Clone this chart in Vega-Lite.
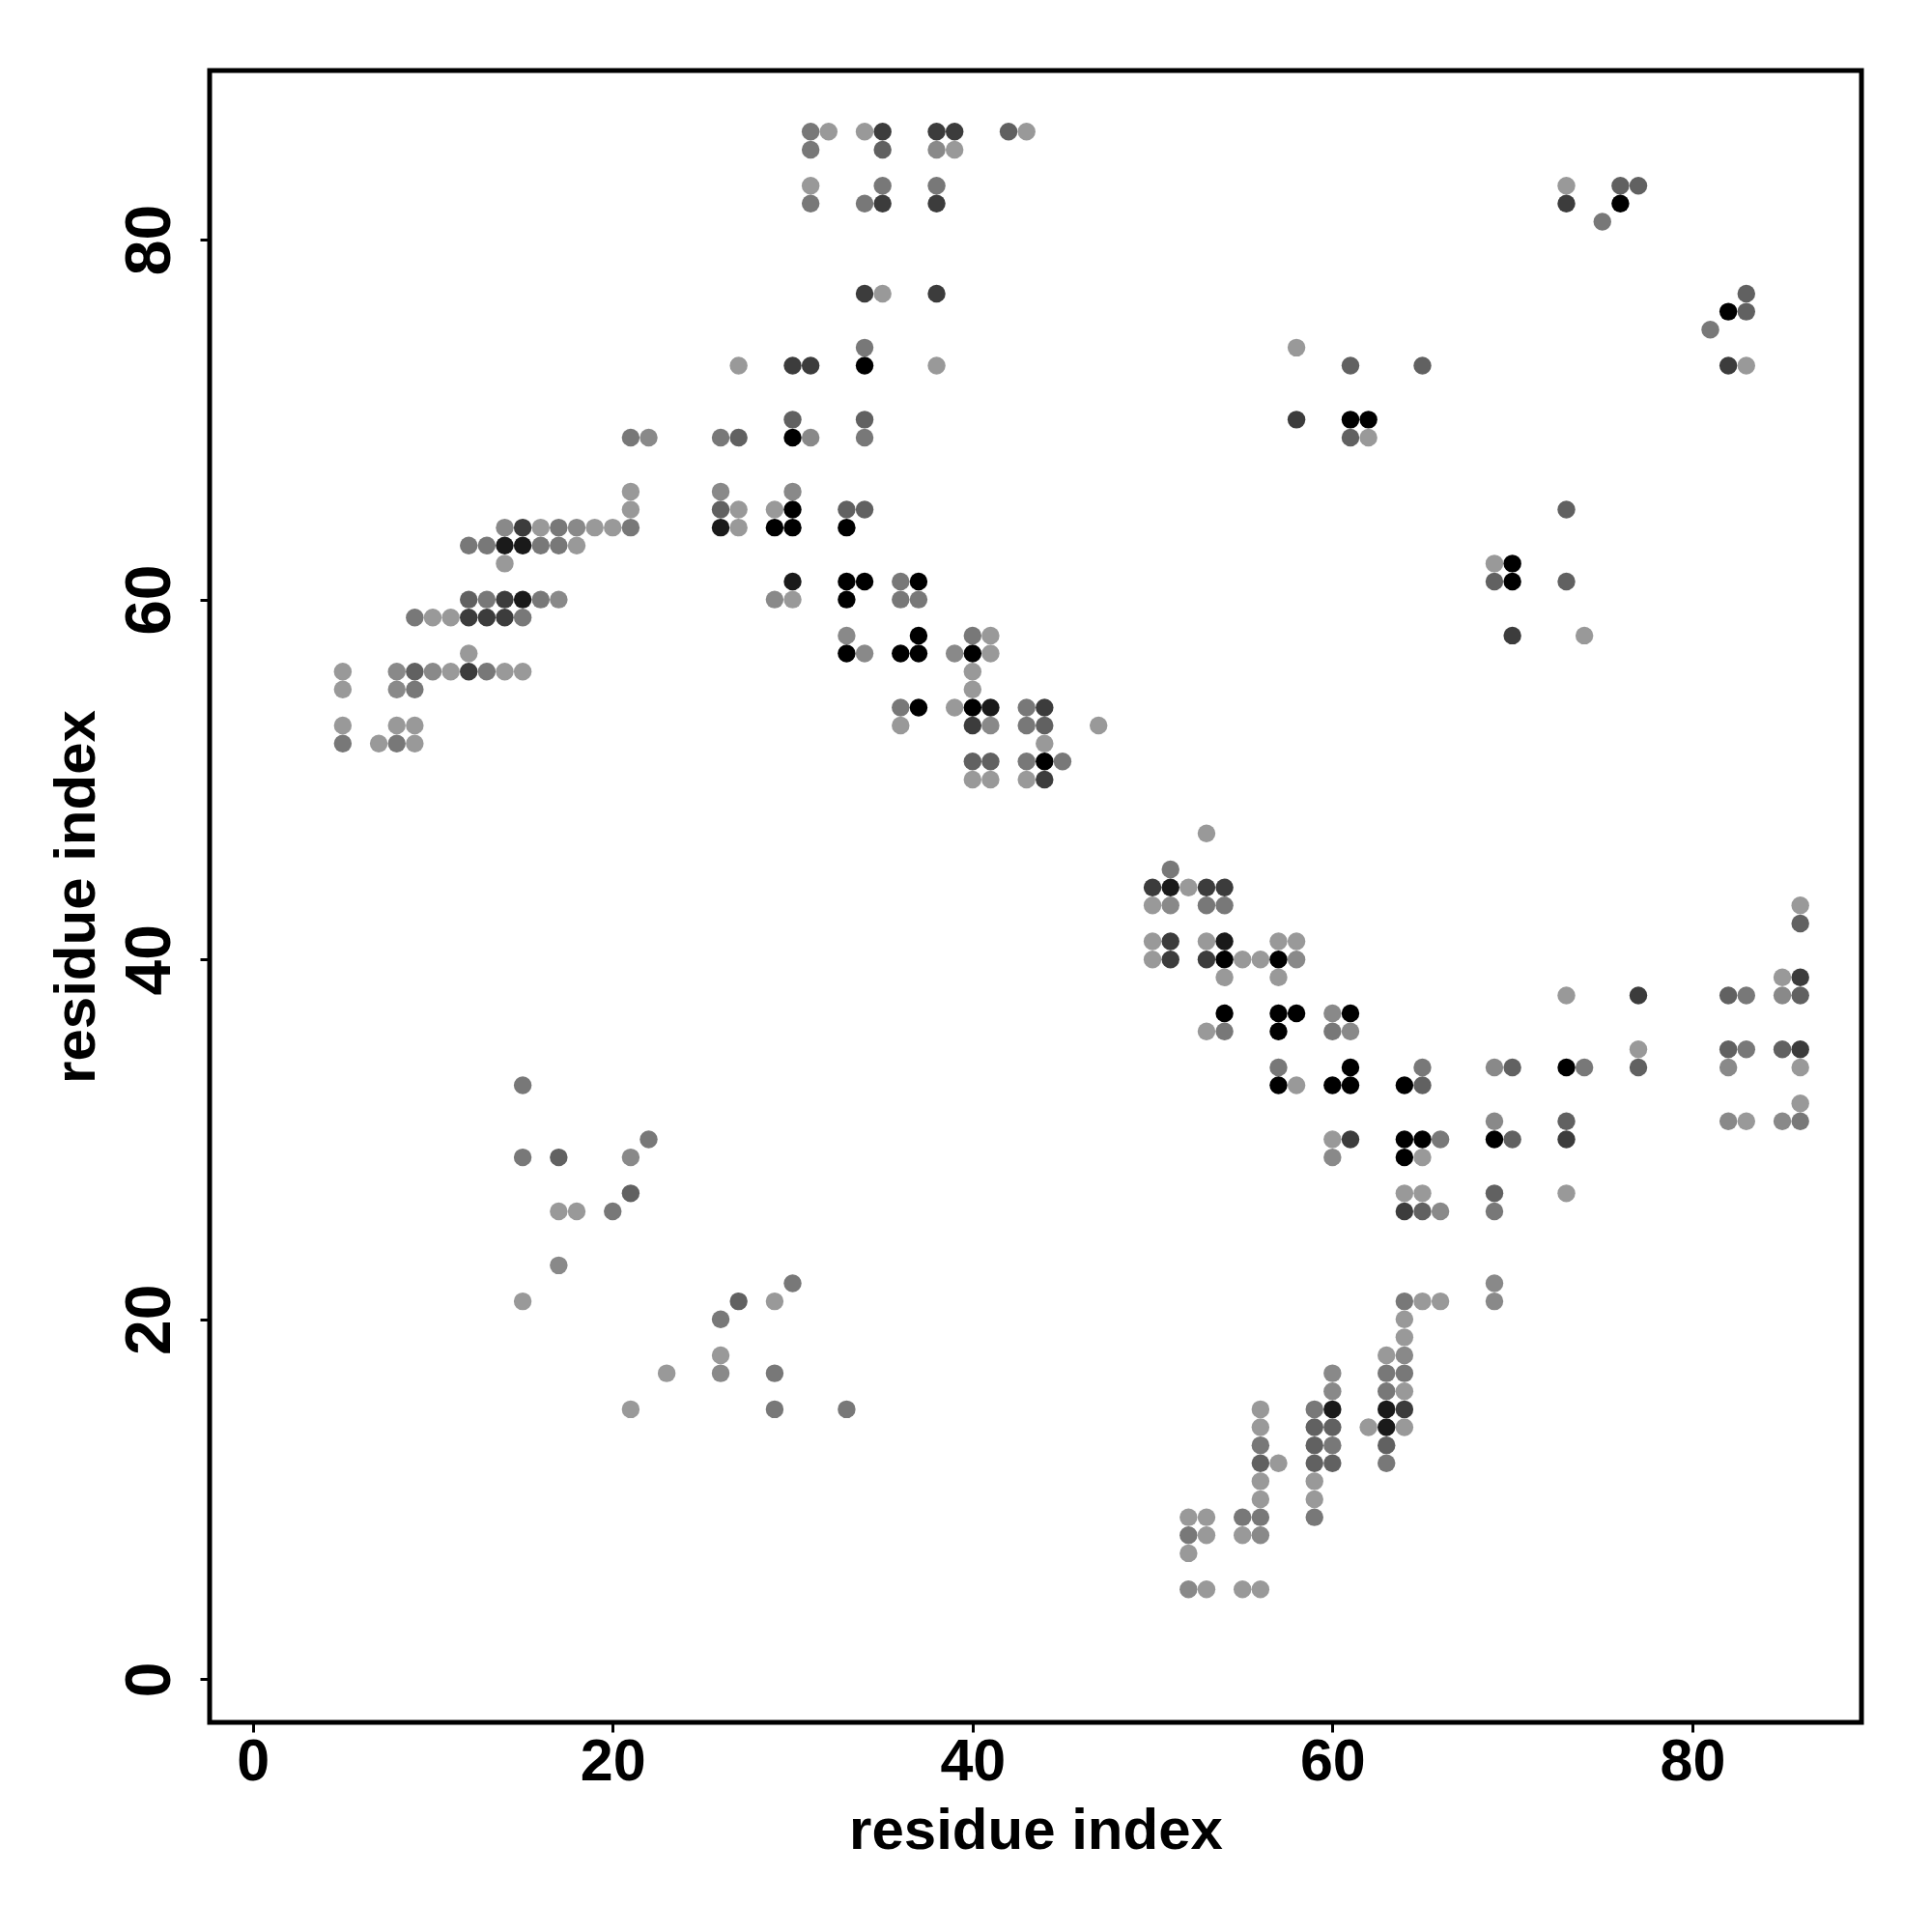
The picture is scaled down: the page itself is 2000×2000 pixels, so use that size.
{
  "$schema": "https://vega.github.io/schema/vega-lite/v6.json",
  "autosize": {"type": "none"},
  "padding": {"left": 217, "top": 73, "right": 73, "bottom": 217},
  "width": 1710,
  "height": 1710,
  "background": "white",
  "config": {
    "view": {"stroke": "black", "strokeWidth": 5},
    "font": "Liberation Sans"
  },
  "data": {"values": [
    {"x":31,"y":86,"w":0.2},{"x":32,"y":86,"w":0.0},{"x":34,"y":86,"w":0.0},{"x":35,"y":86,"w":0.6},{"x":38,"y":86,"w":0.6},{"x":39,"y":86,"w":0.6},{"x":42,"y":86,"w":0.35},{"x":43,"y":86,"w":0.0},
    {"x":31,"y":85,"w":0.2},{"x":35,"y":85,"w":0.35},{"x":38,"y":85,"w":0.1},{"x":39,"y":85,"w":0.0},
    {"x":31,"y":83,"w":0.0},{"x":35,"y":83,"w":0.2},{"x":38,"y":83,"w":0.2},
    {"x":31,"y":82,"w":0.2},{"x":34,"y":82,"w":0.2},{"x":35,"y":82,"w":0.6},{"x":38,"y":82,"w":0.6},
    {"x":34,"y":77,"w":0.6},{"x":35,"y":77,"w":0.0},{"x":38,"y":77,"w":0.6},
    {"x":34,"y":74,"w":0.2},
    {"x":27,"y":73,"w":0.0},{"x":30,"y":73,"w":0.6},{"x":31,"y":73,"w":0.6},{"x":34,"y":73,"w":1.0},{"x":38,"y":73,"w":0.0},
    {"x":30,"y":70,"w":0.35},{"x":34,"y":70,"w":0.35},
    {"x":21,"y":69,"w":0.2},{"x":22,"y":69,"w":0.1},{"x":26,"y":69,"w":0.2},{"x":27,"y":69,"w":0.35},{"x":30,"y":69,"w":1.0},{"x":31,"y":69,"w":0.1},{"x":34,"y":69,"w":0.2},
    {"x":21,"y":66,"w":0.0},{"x":26,"y":66,"w":0.1},{"x":30,"y":66,"w":0.1},
    {"x":21,"y":65,"w":0.0},{"x":26,"y":65,"w":0.35},{"x":27,"y":65,"w":0.0},{"x":29,"y":65,"w":0.0},{"x":30,"y":65,"w":1.0},{"x":33,"y":65,"w":0.35},{"x":34,"y":65,"w":0.35},
    {"x":14,"y":64,"w":0.1},{"x":15,"y":64,"w":0.6},{"x":16,"y":64,"w":0.0},{"x":17,"y":64,"w":0.2},{"x":18,"y":64,"w":0.1},{"x":19,"y":64,"w":0.0},{"x":20,"y":64,"w":0.0},{"x":21,"y":64,"w":0.2},{"x":26,"y":64,"w":0.85},{"x":27,"y":64,"w":0.0},{"x":29,"y":64,"w":1.0},{"x":30,"y":64,"w":1.0},{"x":33,"y":64,"w":1.0},
    {"x":12,"y":63,"w":0.2},{"x":13,"y":63,"w":0.2},{"x":14,"y":63,"w":0.85},{"x":15,"y":63,"w":0.85},{"x":16,"y":63,"w":0.2},{"x":17,"y":63,"w":0.2},{"x":18,"y":63,"w":0.0},
    {"x":14,"y":62,"w":0.0},
    {"x":30,"y":61,"w":0.85},{"x":33,"y":61,"w":1.0},{"x":34,"y":61,"w":1.0},{"x":36,"y":61,"w":0.2},{"x":37,"y":61,"w":1.0},
    {"x":12,"y":60,"w":0.35},{"x":13,"y":60,"w":0.2},{"x":14,"y":60,"w":0.6},{"x":15,"y":60,"w":0.85},{"x":16,"y":60,"w":0.2},{"x":17,"y":60,"w":0.1},{"x":29,"y":60,"w":0.1},{"x":30,"y":60,"w":0.0},{"x":33,"y":60,"w":1.0},{"x":36,"y":60,"w":0.2},{"x":37,"y":60,"w":0.2},
    {"x":9,"y":59,"w":0.2},{"x":10,"y":59,"w":0.0},{"x":11,"y":59,"w":0.0},{"x":12,"y":59,"w":0.6},{"x":13,"y":59,"w":0.6},{"x":14,"y":59,"w":0.6},{"x":15,"y":59,"w":0.2},
    {"x":33,"y":58,"w":0.1},{"x":37,"y":58,"w":1.0},{"x":40,"y":58,"w":0.2},{"x":41,"y":58,"w":0.0},
    {"x":12,"y":57,"w":0.0},{"x":33,"y":57,"w":1.0},{"x":34,"y":57,"w":0.1},{"x":36,"y":57,"w":1.0},{"x":37,"y":57,"w":1.0},{"x":39,"y":57,"w":0.1},{"x":40,"y":57,"w":1.0},{"x":41,"y":57,"w":0.0},
    {"x":5,"y":56,"w":0.0},{"x":8,"y":56,"w":0.1},{"x":9,"y":56,"w":0.35},{"x":10,"y":56,"w":0.1},{"x":11,"y":56,"w":0.0},{"x":12,"y":56,"w":0.6},{"x":13,"y":56,"w":0.2},{"x":14,"y":56,"w":0.0},{"x":15,"y":56,"w":0.0},{"x":40,"y":56,"w":0.0},
    {"x":5,"y":55,"w":0.0},{"x":8,"y":55,"w":0.1},{"x":9,"y":55,"w":0.2},{"x":40,"y":55,"w":0.0},
    {"x":36,"y":54,"w":0.2},{"x":37,"y":54,"w":1.0},{"x":39,"y":54,"w":0.0},{"x":40,"y":54,"w":1.0},{"x":41,"y":54,"w":0.85},{"x":43,"y":54,"w":0.2},{"x":44,"y":54,"w":0.6},
    {"x":5,"y":53,"w":0.0},{"x":8,"y":53,"w":0.0},{"x":9,"y":53,"w":0.0},{"x":36,"y":53,"w":0.0},{"x":40,"y":53,"w":0.6},{"x":41,"y":53,"w":0.1},{"x":43,"y":53,"w":0.2},{"x":44,"y":53,"w":0.35},{"x":47,"y":53,"w":0.0},
    {"x":5,"y":52,"w":0.2},{"x":7,"y":52,"w":0.0},{"x":8,"y":52,"w":0.2},{"x":9,"y":52,"w":0.0},{"x":44,"y":52,"w":0.0},
    {"x":40,"y":51,"w":0.35},{"x":41,"y":51,"w":0.35},{"x":43,"y":51,"w":0.2},{"x":44,"y":51,"w":1.0},{"x":45,"y":51,"w":0.2},
    {"x":40,"y":50,"w":0.0},{"x":41,"y":50,"w":0.0},{"x":43,"y":50,"w":0.0},{"x":44,"y":50,"w":0.6},
    {"x":73,"y":83,"w":0.0},{"x":76,"y":83,"w":0.35},{"x":77,"y":83,"w":0.35},
    {"x":73,"y":82,"w":0.6},{"x":76,"y":82,"w":1.0},
    {"x":75,"y":81,"w":0.2},
    {"x":83,"y":77,"w":0.35},
    {"x":82,"y":76,"w":1.0},{"x":83,"y":76,"w":0.35},
    {"x":81,"y":75,"w":0.2},
    {"x":58,"y":74,"w":0.0},
    {"x":61,"y":73,"w":0.35},{"x":65,"y":73,"w":0.35},{"x":82,"y":73,"w":0.6},{"x":83,"y":73,"w":0.0},
    {"x":58,"y":70,"w":0.6},{"x":61,"y":70,"w":1.0},{"x":62,"y":70,"w":1.0},
    {"x":61,"y":69,"w":0.35},{"x":62,"y":69,"w":0.0},
    {"x":73,"y":65,"w":0.35},
    {"x":69,"y":62,"w":0.0},{"x":70,"y":62,"w":1.0},
    {"x":69,"y":61,"w":0.35},{"x":70,"y":61,"w":1.0},{"x":73,"y":61,"w":0.35},
    {"x":70,"y":58,"w":0.6},{"x":74,"y":58,"w":0.0},
    {"x":53,"y":47,"w":0.0},
    {"x":51,"y":45,"w":0.2},
    {"x":50,"y":44,"w":0.6},{"x":51,"y":44,"w":0.85},{"x":52,"y":44,"w":0.0},{"x":53,"y":44,"w":0.6},{"x":54,"y":44,"w":0.6},
    {"x":50,"y":43,"w":0.0},{"x":51,"y":43,"w":0.1},{"x":53,"y":43,"w":0.2},{"x":54,"y":43,"w":0.2},{"x":86,"y":43,"w":0.0},
    {"x":86,"y":42,"w":0.35},
    {"x":50,"y":41,"w":0.0},{"x":51,"y":41,"w":0.6},{"x":53,"y":41,"w":0.0},{"x":54,"y":41,"w":0.85},{"x":57,"y":41,"w":0.0},{"x":58,"y":41,"w":0.0},
    {"x":50,"y":40,"w":0.0},{"x":51,"y":40,"w":0.6},{"x":53,"y":40,"w":0.6},{"x":54,"y":40,"w":1.0},{"x":55,"y":40,"w":0.0},{"x":56,"y":40,"w":0.0},{"x":57,"y":40,"w":1.0},{"x":58,"y":40,"w":0.1},
    {"x":54,"y":39,"w":0.0},{"x":57,"y":39,"w":0.0},{"x":85,"y":39,"w":0.0},{"x":86,"y":39,"w":0.6},
    {"x":73,"y":38,"w":0.0},{"x":77,"y":38,"w":0.6},{"x":82,"y":38,"w":0.35},{"x":83,"y":38,"w":0.2},{"x":85,"y":38,"w":0.1},{"x":86,"y":38,"w":0.35},
    {"x":54,"y":37,"w":1.0},{"x":57,"y":37,"w":1.0},{"x":58,"y":37,"w":1.0},{"x":60,"y":37,"w":0.1},{"x":61,"y":37,"w":1.0},
    {"x":53,"y":36,"w":0.0},{"x":54,"y":36,"w":0.2},{"x":57,"y":36,"w":1.0},{"x":60,"y":36,"w":0.2},{"x":61,"y":36,"w":0.1},
    {"x":77,"y":35,"w":0.0},{"x":82,"y":35,"w":0.35},{"x":83,"y":35,"w":0.2},{"x":85,"y":35,"w":0.35},{"x":86,"y":35,"w":0.6},
    {"x":57,"y":34,"w":0.2},{"x":61,"y":34,"w":1.0},{"x":65,"y":34,"w":0.2},{"x":69,"y":34,"w":0.1},{"x":70,"y":34,"w":0.35},{"x":73,"y":34,"w":1.0},{"x":74,"y":34,"w":0.2},{"x":77,"y":34,"w":0.35},{"x":82,"y":34,"w":0.1},{"x":86,"y":34,"w":0.0},
    {"x":57,"y":33,"w":1.0},{"x":58,"y":33,"w":0.0},{"x":60,"y":33,"w":1.0},{"x":61,"y":33,"w":1.0},{"x":64,"y":33,"w":1.0},{"x":65,"y":33,"w":0.35},
    {"x":86,"y":32,"w":0.0},
    {"x":69,"y":31,"w":0.1},{"x":73,"y":31,"w":0.35},{"x":82,"y":31,"w":0.1},{"x":83,"y":31,"w":0.0},{"x":85,"y":31,"w":0.1},{"x":86,"y":31,"w":0.2},
    {"x":60,"y":30,"w":0.0},{"x":61,"y":30,"w":0.6},{"x":64,"y":30,"w":1.0},{"x":65,"y":30,"w":1.0},{"x":66,"y":30,"w":0.2},{"x":69,"y":30,"w":1.0},{"x":70,"y":30,"w":0.35},{"x":73,"y":30,"w":0.6},
    {"x":60,"y":29,"w":0.1},{"x":64,"y":29,"w":1.0},{"x":65,"y":29,"w":0.0},
    {"x":64,"y":27,"w":0.0},{"x":65,"y":27,"w":0.0},{"x":69,"y":27,"w":0.35},{"x":73,"y":27,"w":0.0},
    {"x":64,"y":26,"w":0.6},{"x":65,"y":26,"w":0.35},{"x":66,"y":26,"w":0.1},{"x":69,"y":26,"w":0.2},
    {"x":69,"y":22,"w":0.1},
    {"x":64,"y":21,"w":0.2},{"x":65,"y":21,"w":0.0},{"x":66,"y":21,"w":0.0},{"x":69,"y":21,"w":0.1},
    {"x":64,"y":20,"w":0.0},
    {"x":64,"y":19,"w":0.0},
    {"x":63,"y":18,"w":0.0},{"x":64,"y":18,"w":0.1},
    {"x":60,"y":17,"w":0.1},{"x":63,"y":17,"w":0.2},{"x":64,"y":17,"w":0.2},
    {"x":60,"y":16,"w":0.1},{"x":63,"y":16,"w":0.2},{"x":64,"y":16,"w":0.0},
    {"x":56,"y":15,"w":0.0},{"x":59,"y":15,"w":0.2},{"x":60,"y":15,"w":0.85},{"x":63,"y":15,"w":0.85},{"x":64,"y":15,"w":0.6},
    {"x":56,"y":14,"w":0.0},{"x":59,"y":14,"w":0.35},{"x":60,"y":14,"w":0.35},{"x":62,"y":14,"w":0.0},{"x":63,"y":14,"w":0.85},{"x":64,"y":14,"w":0.0},
    {"x":56,"y":13,"w":0.2},{"x":59,"y":13,"w":0.35},{"x":60,"y":13,"w":0.2},{"x":63,"y":13,"w":0.35},
    {"x":56,"y":12,"w":0.35},{"x":57,"y":12,"w":0.0},{"x":59,"y":12,"w":0.35},{"x":60,"y":12,"w":0.35},{"x":63,"y":12,"w":0.2},
    {"x":56,"y":11,"w":0.0},{"x":59,"y":11,"w":0.0},
    {"x":56,"y":10,"w":0.0},{"x":59,"y":10,"w":0.0},
    {"x":52,"y":9,"w":0.0},{"x":53,"y":9,"w":0.0},{"x":55,"y":9,"w":0.2},{"x":56,"y":9,"w":0.2},{"x":59,"y":9,"w":0.2},
    {"x":52,"y":8,"w":0.2},{"x":53,"y":8,"w":0.0},{"x":55,"y":8,"w":0.0},{"x":56,"y":8,"w":0.1},
    {"x":52,"y":7,"w":0.0},
    {"x":52,"y":5,"w":0.1},{"x":53,"y":5,"w":0.0},{"x":55,"y":5,"w":0.0},{"x":56,"y":5,"w":0.0},
    {"x":15,"y":33,"w":0.2},
    {"x":22,"y":30,"w":0.2},
    {"x":15,"y":29,"w":0.2},{"x":17,"y":29,"w":0.35},{"x":21,"y":29,"w":0.1},
    {"x":21,"y":27,"w":0.35},
    {"x":17,"y":26,"w":0.0},{"x":18,"y":26,"w":0.0},{"x":20,"y":26,"w":0.2},
    {"x":17,"y":23,"w":0.1},
    {"x":30,"y":22,"w":0.2},
    {"x":15,"y":21,"w":0.0},{"x":27,"y":21,"w":0.35},{"x":29,"y":21,"w":0.0},
    {"x":26,"y":20,"w":0.2},
    {"x":26,"y":18,"w":0.0},
    {"x":23,"y":17,"w":0.0},{"x":26,"y":17,"w":0.1},{"x":29,"y":17,"w":0.2},
    {"x":21,"y":15,"w":0.0},{"x":29,"y":15,"w":0.2},{"x":33,"y":15,"w":0.2}
  ]},
  "mark": {"type": "circle", "size": 340, "opacity": 1, "strokeWidth": 0},
  "encoding": {
    "x": {
      "field": "x", "type": "quantitative",
      "scale": {"domain": [-2.4, 89.4], "nice": false, "zero": false},
      "axis": {
        "title": "residue index", "values": [0, 20, 40, 60, 80], "grid": false,
        "domain": false, "tickColor": "black", "tickSize": 10, "tickWidth": 3,
        "labelFont": "Liberation Sans", "labelFontWeight": "bold", "labelFontSize": 61, "labelColor": "black",
        "labelBaseline": "alphabetic", "labelPadding": 49, "labelAlign": "center",
        "titleFont": "Liberation Sans", "titleFontWeight": "bold", "titleFontSize": 60, "titleColor": "black",
        "titleBaseline": "alphabetic", "titleY": 130, "titleX": 855
      }
    },
    "y": {
      "field": "y", "type": "quantitative",
      "scale": {"domain": [-2.4, 89.4], "nice": false, "zero": false},
      "axis": {
        "title": "residue index", "values": [0, 20, 40, 60, 80], "grid": false,
        "domain": false, "tickColor": "black", "tickSize": 10, "tickWidth": 3,
        "labelFont": "Liberation Sans", "labelFontWeight": "bold", "labelFontSize": 66, "labelColor": "black",
        "labelAngle": -90, "labelAlign": "center", "labelBaseline": "alphabetic", "labelPadding": 32,
        "titleFont": "Liberation Sans", "titleFontWeight": "bold", "titleFontSize": 60, "titleColor": "black",
        "titleBaseline": "alphabetic", "titleAngle": -90, "titleX": -120, "titleY": 855
      }
    },
    "color": {
      "field": "w", "type": "quantitative",
      "scale": {"domain": [0, 1], "range": ["#999999", "#000000"]},
      "legend": null
    }
  }
}
